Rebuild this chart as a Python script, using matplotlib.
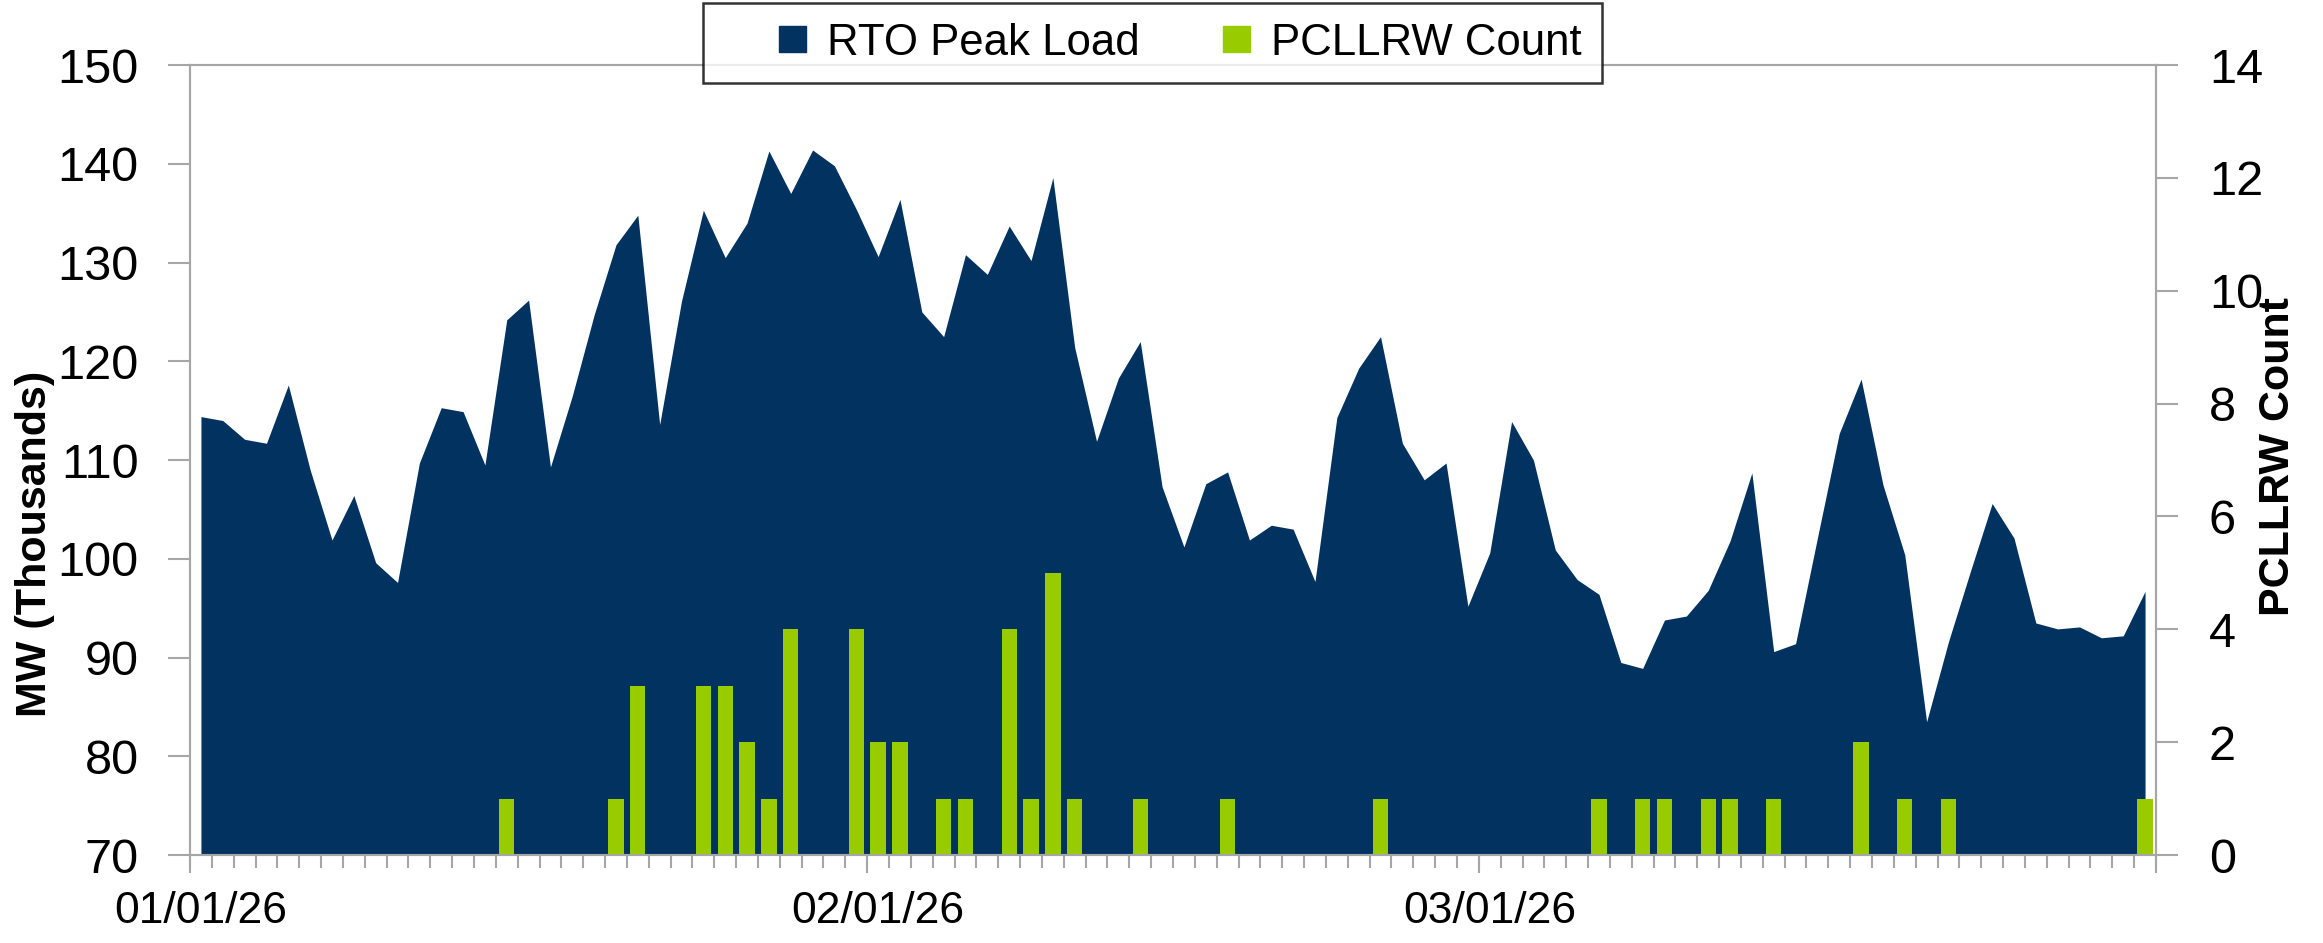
import matplotlib
matplotlib.use("Agg")
import matplotlib.pyplot as plt
from matplotlib import font_manager as fm
from matplotlib.patches import Patch, Rectangle
from matplotlib.legend_handler import HandlerPatch

# daily RTO peak load (MW, thousands), 01/01/26 .. 03/31/26
load = [114.4, 114.0, 112.1, 111.7, 117.6, 109.0, 101.9, 106.4, 99.6, 97.6,
        109.7, 115.3, 114.9, 109.5, 124.2, 126.2, 109.3, 116.5, 124.7, 131.8,
        134.8, 113.6, 126.1, 135.3, 130.5, 134.0, 141.3, 137.0, 141.4, 139.8,
        135.4, 130.6, 136.4, 125.0, 122.5, 130.8, 128.8, 133.7, 130.2, 138.6,
        121.4, 111.9, 118.3, 122.0, 107.3, 101.2, 107.6, 108.8, 101.9, 103.4,
        103.0, 97.7, 114.3, 119.3, 122.5, 111.7, 108.0, 109.7, 95.2, 100.6,
        113.9, 110.0, 100.9, 97.9, 96.4, 89.5, 88.9, 93.8, 94.2, 96.8,
        101.8, 108.7, 90.6, 91.4, 102.1, 112.7, 118.2, 107.5, 100.4, 83.5,
        91.6, 98.7, 105.6, 102.1, 93.5, 92.9, 93.1, 92.0, 92.2, 96.7]

# PCLLRW count per day (zero where no bar)
count_days = [14, 19, 20, 23, 24, 25, 26, 27, 30, 31, 32, 34, 35, 37, 38, 39, 40,
              43, 47, 54, 64, 66, 67, 69, 70, 72, 76, 78, 80, 89]
count_vals = [1, 1, 3, 3, 3, 2, 1, 4, 4, 2, 2, 1, 1, 4, 1, 5, 1,
              1, 1, 1, 1, 1, 1, 1, 1, 1, 2, 1, 1, 1]

month_days = [0, 31, 59]
month_labels = ["01/01/26", "02/01/26", "03/01/26"]

navy = "#02325F"
green = "#99CC00"
grey = "#A6A6A6"


def have_font(name):
    try:
        fm.findfont(name, fallback_to_default=False)
        return True
    except Exception:
        return False


base = "Liberation Sans" if have_font("Liberation Sans") else "DejaVu Sans"
narrow = "Liberation Sans Narrow" if have_font("Liberation Sans Narrow") else base
lab_size = 34 if narrow != base else 31
plt.rcParams["font.family"] = base

days = list(range(len(load)))
counts = [0] * len(load)
for d, v in zip(count_days, count_vals):
    counts[d] = v

fig = plt.figure(figsize=(23.23, 9.43), dpi=100)
ax = fig.add_axes([0.0818, 0.0933, 0.8463, 0.8377])
ax2 = ax.twinx()

ax.fill_between(days, 70, load, color=navy, linewidth=0)
ax2.bar(days, counts, width=0.7, color=green, linewidth=0)

ax.set_xlim(-0.5, len(load) - 0.5)
ax.set_ylim(70, 150)
ax2.set_ylim(0, 14)
ax.set_yticks(range(70, 151, 10))
ax2.set_yticks(range(0, 15, 2))

ax.set_xticks(month_days)
ax.set_xticklabels(month_labels)
ax.set_xticks([d - 0.5 for d in range(len(load) + 1)], minor=True)
ax.tick_params(axis="x", which="major", length=0, pad=26, labelsize=32)
ax.tick_params(axis="x", which="minor", length=9, width=1.5, color=grey)

sec = ax.secondary_xaxis("bottom")
sec.set_xticks([d - 0.5 for d in month_days] + [len(load) - 0.5])
sec.set_xticklabels([])
sec.tick_params(length=13, width=1.5, color=grey)
sec.spines["bottom"].set_visible(False)

ax.tick_params(axis="y", length=16, width=1.5, color=grey, pad=21, labelsize=35)
ax2.tick_params(axis="y", length=16, width=1.5, color=grey, pad=22, labelsize=35)

for a in (ax, ax2):
    for s in a.spines.values():
        s.set_color(grey)
        s.set_linewidth(1.5)

ax.set_ylabel("MW (Thousands)", fontsize=lab_size, fontweight="bold", family=narrow)
ax.yaxis.set_label_coords(-0.0685, 0.394)
ax2.set_ylabel("PCLLRW Count", fontsize=lab_size, fontweight="bold",
               family=narrow, rotation=90)
ax2.yaxis.set_label_coords(1.052, 0.505)


def square(legend, orig_handle, xdescent, ydescent, width, height, fontsize):
    s = 0.6 * fontsize
    return Rectangle((-xdescent + width - s, -ydescent + (height - s) / 2), s, s)


handles = [Patch(color=navy, label="RTO Peak Load"),
           Patch(color=green, label="PCLLRW Count")]
leg = fig.legend(handles=handles, loc="upper center", ncol=2,
                 bbox_to_anchor=(0.496, 0.997), borderaxespad=0,
                 fontsize=31.5, frameon=True, fancybox=False,
                 handlelength=1.9, handletextpad=0.5, columnspacing=0.6,
                 borderpad=0.45,
                 handler_map={Patch: HandlerPatch(patch_func=square)})
leg.get_frame().set_edgecolor("black")
leg.get_frame().set_linewidth(1.8)

fig.savefig("out.png", dpi=100)
